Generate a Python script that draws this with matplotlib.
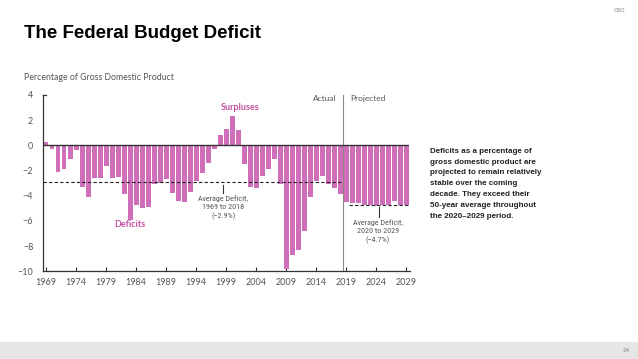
import matplotlib
matplotlib.use("Agg")
import matplotlib.pyplot as plt
from matplotlib.patches import Rectangle

plt.rcParams['font.family'] = ['Lato', 'DejaVu Sans']

years = list(range(1969, 2030))
actual_values = [0.3, -0.3, -2.1, -1.9, -1.1, -0.4, -3.3, -4.1, -2.6, -2.6,
                 -1.6, -2.6, -2.5, -3.9, -5.9, -4.7, -5.0, -4.9, -3.1, -3.0,
                 -2.7, -3.8, -4.4, -4.5, -3.7, -2.8, -2.2, -1.4, -0.3, 0.8,
                 1.3, 2.3, 1.2, -1.5, -3.3, -3.4, -2.4, -1.9, -1.1, -3.1,
                 -9.8, -8.7, -8.3, -6.8, -4.1, -2.8, -2.4, -3.1, -3.4, -3.9]
projected_values = [-4.5, -4.6, -4.6, -4.7, -4.7, -4.8, -4.7, -4.7, -4.4, -4.7, -4.7]
values = actual_values + projected_values
avg_hist = -2.9
avg_proj = -4.7
xtick_years = list(range(1969, 2030, 5))
yticks = [4, 2, 0, -2, -4, -6, -8, -10]

bar_color = '#CF6FBA'
label_color = '#C0509F'
grey = '#555555'

fig = plt.figure(figsize=(6.38, 3.59), dpi=100)
ax = fig.add_axes([43/638, 1-271.3/359, (409.5-43)/638, (271.3-95)/359])

ax.bar(years, values, width=0.82, color=bar_color, zorder=2)
ax.set_xlim(1968.5, 2029.5)
ax.set_ylim(-10, 4)

ax.axhline(0, color='#333333', lw=1.0, zorder=3)
ax.hlines(avg_hist, 1968.5, 2018.5, colors='#222222', linestyles=(0, (3, 2)), lw=0.8, zorder=4)
ax.hlines(avg_proj, 2019.5, 2029.5, colors='#222222', linestyles=(0, (3, 2)), lw=0.8, zorder=4)
ax.axvline(2018.5, color='#888888', lw=0.8, zorder=1)

for s in ['top', 'right']:
    ax.spines[s].set_visible(False)
for s in ['left', 'bottom']:
    ax.spines[s].set_color('#333333')
    ax.spines[s].set_linewidth(0.9)

ax.set_xticks(xtick_years)
ax.set_xticklabels([str(y) for y in xtick_years])
ax.set_yticks(yticks)
ax.tick_params(axis='x', direction='in', length=3, width=0.8, color='#333333',
               labelsize=6.5, labelcolor=grey, pad=5)
ax.tick_params(axis='y', length=0, labelsize=6.5, labelcolor=grey, pad=7)
ax.plot([1968.5, 1969.0], [4, 4], color='#333333', lw=0.9, clip_on=False)

ax.text(2001.3, 3.0, 'Surpluses', color=label_color, fontsize=6.5, fontweight='bold',
        ha='center', va='center')
ax.text(1983, -6.3, 'Deficits', color=label_color, fontsize=6.5, fontweight='bold',
        ha='center', va='center')
ax.plot([1998.5, 1998.5], [-3.12, -3.77], color='#333333', lw=0.8)
ax.text(1998.5, -3.95, 'Average Deficit,\n1969 to 2018\n(\u22122.9%)', color=grey,
        fontsize=5.8, ha='center', va='top', linespacing=1.4,
        family=['Roboto Condensed', 'Lato', 'DejaVu Sans'])
ax.plot([2024.4, 2024.4], [-4.92, -5.68], color='#333333', lw=0.8)
ax.text(2024.2, -5.85, 'Average Deficit,\n2020 to 2029\n(\u22124.7%)', color=grey,
        fontsize=5.8, ha='center', va='top', linespacing=1.4,
        family=['Roboto Condensed', 'Lato', 'DejaVu Sans'])
ax.text(2017.4, 3.7, 'Actual', color=grey, fontsize=6, ha='right', va='center')
ax.text(2019.6, 3.7, 'Projected', color=grey, fontsize=6, ha='left', va='center')

fig.text(24/638, 1-33/359, 'The Federal Budget Deficit', fontsize=13.5, fontweight='bold',
         family=['Liberation Sans', 'DejaVu Sans'], color='black', ha='left', va='center')
fig.text(625/638, 1-10/359, 'CBO', fontsize=4, color='#888888', ha='right', va='center')
fig.text(24/638, 1-77/359, 'Percentage of Gross Domestic Product', fontsize=6.3,
         color=grey, ha='left', va='center')
fig.text(430/638, 1-148/359,
         'Deficits as a percentage of\ngross domestic product are\nprojected to remain relatively\n'
         'stable over the coming\ndecade. They exceed their\n50-year average throughout\n'
         'the 2020\u20132029 period.',
         fontsize=5.8, fontweight='bold', color='#222222', ha='left', va='top',
         linespacing=1.75, family=['Liberation Sans Narrow', 'Liberation Sans', 'DejaVu Sans'])

fig.patches.append(Rectangle((0, 0), 1, 17/359, transform=fig.transFigure,
                             facecolor='#E6E6E6', edgecolor='none', zorder=0))
fig.text(626/638, 8.5/359, '24', fontsize=4.5, color='#888888', ha='center', va='center')

fig.savefig('out.png', dpi=100)
